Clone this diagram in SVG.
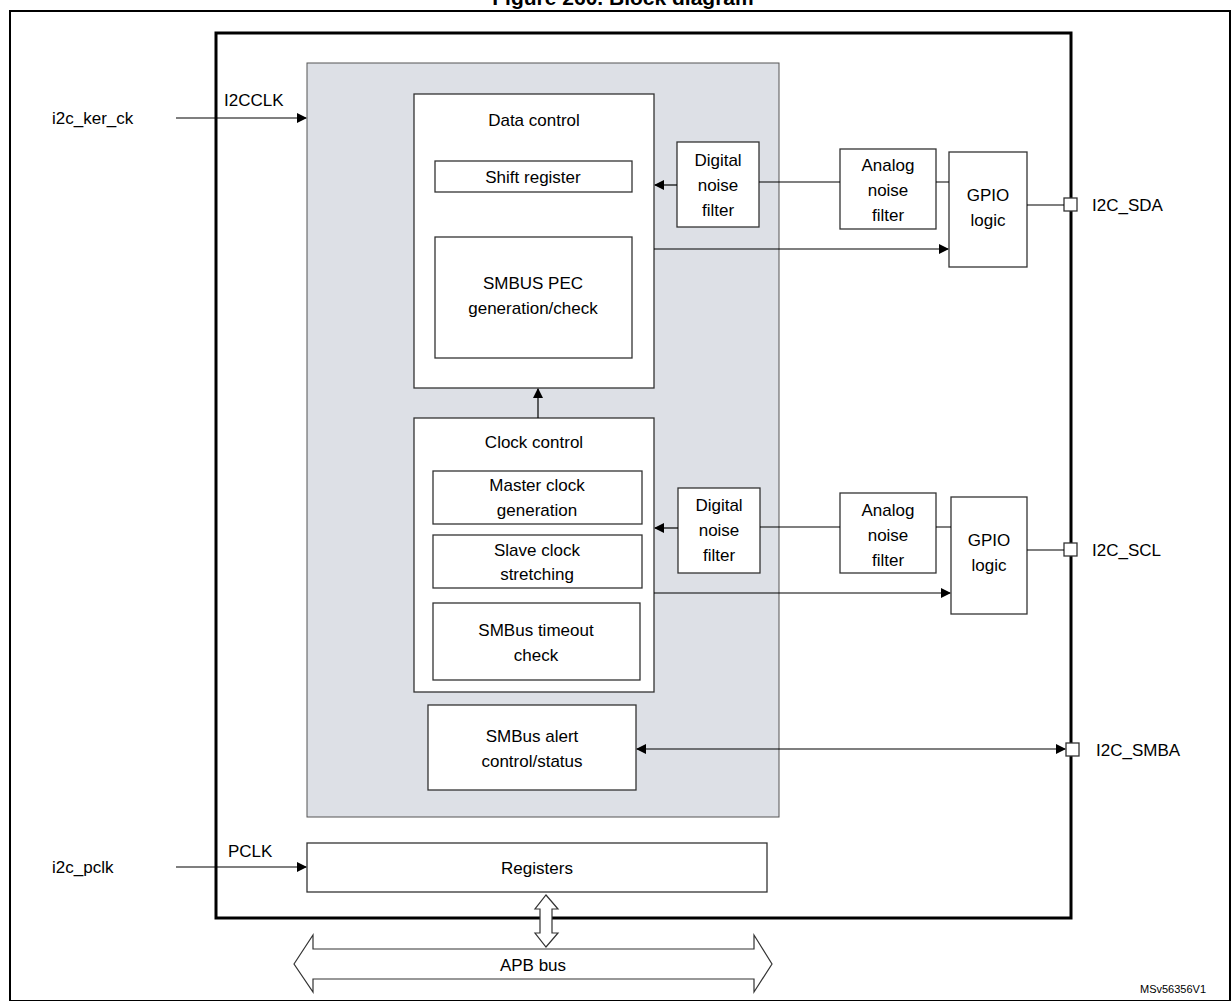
<svg xmlns="http://www.w3.org/2000/svg" width="1232" height="1001" viewBox="0 0 1232 1001">
<style>
text{font-family:"Liberation Sans",Arial,sans-serif;font-size:17px;fill:#000}
.c{text-anchor:middle}
.b{fill:#fff;stroke:#333;stroke-width:1.3}
.l{stroke:#000;stroke-width:1.2;fill:none}
</style>
<defs>
<marker id="a" markerWidth="10" markerHeight="10" refX="9" refY="5" orient="auto-start-reverse" markerUnits="userSpaceOnUse"><path d="M0,0L10,5L0,10z" fill="#000"/></marker>
</defs>
<rect width="1232" height="1001" fill="#fff"/>
<text x="623" y="5" class="c" style="font-weight:bold;font-size:21px">Figure 260. Block diagram</text>
<rect x="10" y="11" width="1220" height="990" fill="none" stroke="#000" stroke-width="2"/>
<rect id="chip" x="216" y="33" width="855" height="885" fill="#fff" stroke="#000" stroke-width="3"/>
<rect id="core" x="307" y="63" width="472" height="754" fill="#dde0e6" stroke="#555" stroke-width="1"/>
<g id="datactl"><rect class="b" x="414" y="94" width="240" height="294"/><text x="534" y="126" class="c">Data control</text></g>
<g id="shift"><rect class="b" x="435" y="161" width="197" height="31"/><text x="533" y="183" class="c">Shift register</text></g>
<g id="pec"><rect class="b" x="435" y="237" width="197" height="121"/><text x="533" y="289" class="c">SMBUS PEC</text><text x="533" y="314" class="c">generation/check</text></g>
<g id="clkctl"><rect class="b" x="414" y="418" width="240" height="274"/><text x="534" y="448" class="c">Clock control</text></g>
<g id="mclk"><rect class="b" x="433" y="471" width="209" height="53"/><text x="537" y="491" class="c">Master clock</text><text x="537" y="516" class="c">generation</text></g>
<g id="sclk"><rect class="b" x="433" y="535" width="209" height="53"/><text x="537" y="556" class="c">Slave clock</text><text x="537" y="580" class="c">stretching</text></g>
<g id="tmo"><rect class="b" x="433" y="603" width="207" height="77"/><text x="536" y="636" class="c">SMBus timeout</text><text x="536" y="661" class="c">check</text></g>
<g id="alert"><rect class="b" x="428" y="705" width="208" height="85"/><text x="532" y="742" class="c">SMBus alert</text><text x="532" y="767" class="c">control/status</text></g>
<g id="dnf1"><rect class="b" x="677" y="142" width="82" height="85"/><text x="718" y="166" class="c">Digital</text><text x="718" y="191" class="c">noise</text><text x="718" y="216" class="c">filter</text></g>
<g id="anf1"><rect class="b" x="840" y="149" width="96" height="80"/><text x="888" y="171" class="c">Analog</text><text x="888" y="196" class="c">noise</text><text x="888" y="221" class="c">filter</text></g>
<g id="gpio1"><rect class="b" x="949" y="152" width="78" height="115"/><text x="988" y="201" class="c">GPIO</text><text x="988" y="226" class="c">logic</text></g>
<g id="dnf2"><rect class="b" x="678" y="488" width="82" height="85"/><text x="719" y="511" class="c">Digital</text><text x="719" y="536" class="c">noise</text><text x="719" y="561" class="c">filter</text></g>
<g id="anf2"><rect class="b" x="840" y="493" width="96" height="80"/><text x="888" y="516" class="c">Analog</text><text x="888" y="541" class="c">noise</text><text x="888" y="566" class="c">filter</text></g>
<g id="gpio2"><rect class="b" x="951" y="497" width="76" height="117"/><text x="989" y="546" class="c">GPIO</text><text x="989" y="571" class="c">logic</text></g>
<g id="regs"><rect class="b" x="307" y="843" width="460" height="49"/><text x="537" y="874" class="c">Registers</text></g>
<g id="pads">
<rect class="b" x="1064" y="198" width="13" height="13"/><text x="1092" y="211">I2C_SDA</text>
<rect class="b" x="1064" y="543" width="13" height="13"/><text x="1092" y="556">I2C_SCL</text>
<rect class="b" x="1066" y="743" width="13" height="13"/><text x="1096" y="756">I2C_SMBA</text>
</g>
<g id="labels">
<text x="52" y="124">i2c_ker_ck</text><text x="224" y="106">I2CCLK</text>
<text x="52" y="873">i2c_pclk</text><text x="228" y="857">PCLK</text>
<text x="1140" y="993" style="font-size:11px">MSv56356V1</text>
</g>
<g id="connectors">
<path class="l" d="M176,118H306" marker-end="url(#a)"/>
<path class="l" d="M176,867H306" marker-end="url(#a)"/>
<path class="l" d="M538,418V389" marker-end="url(#a)"/>
<path class="l" d="M677,185H655" marker-end="url(#a)"/>
<path class="l" d="M759,182H840M936,182H949M1027,205H1064"/>
<path class="l" d="M654,249H948" marker-end="url(#a)"/>
<path class="l" d="M678,528H655" marker-end="url(#a)"/>
<path class="l" d="M760,527H840M936,527H951M1027,550H1064"/>
<path class="l" d="M654,593H950" marker-end="url(#a)"/>
<path class="l" d="M637,749H1065" marker-start="url(#a)" marker-end="url(#a)"/>
<path d="M546,895L558,909H552V933H558L546,947L535,933H540V909H535Z" fill="#fff" stroke="#333" stroke-width="1.2"/>
<path d="M294,964L313,935V949H754V935L772,964L754,992V979H313V992Z" fill="#fff" stroke="#333" stroke-width="1.2"/>
<text x="533" y="971" class="c">APB bus</text>
</g>
</svg>
